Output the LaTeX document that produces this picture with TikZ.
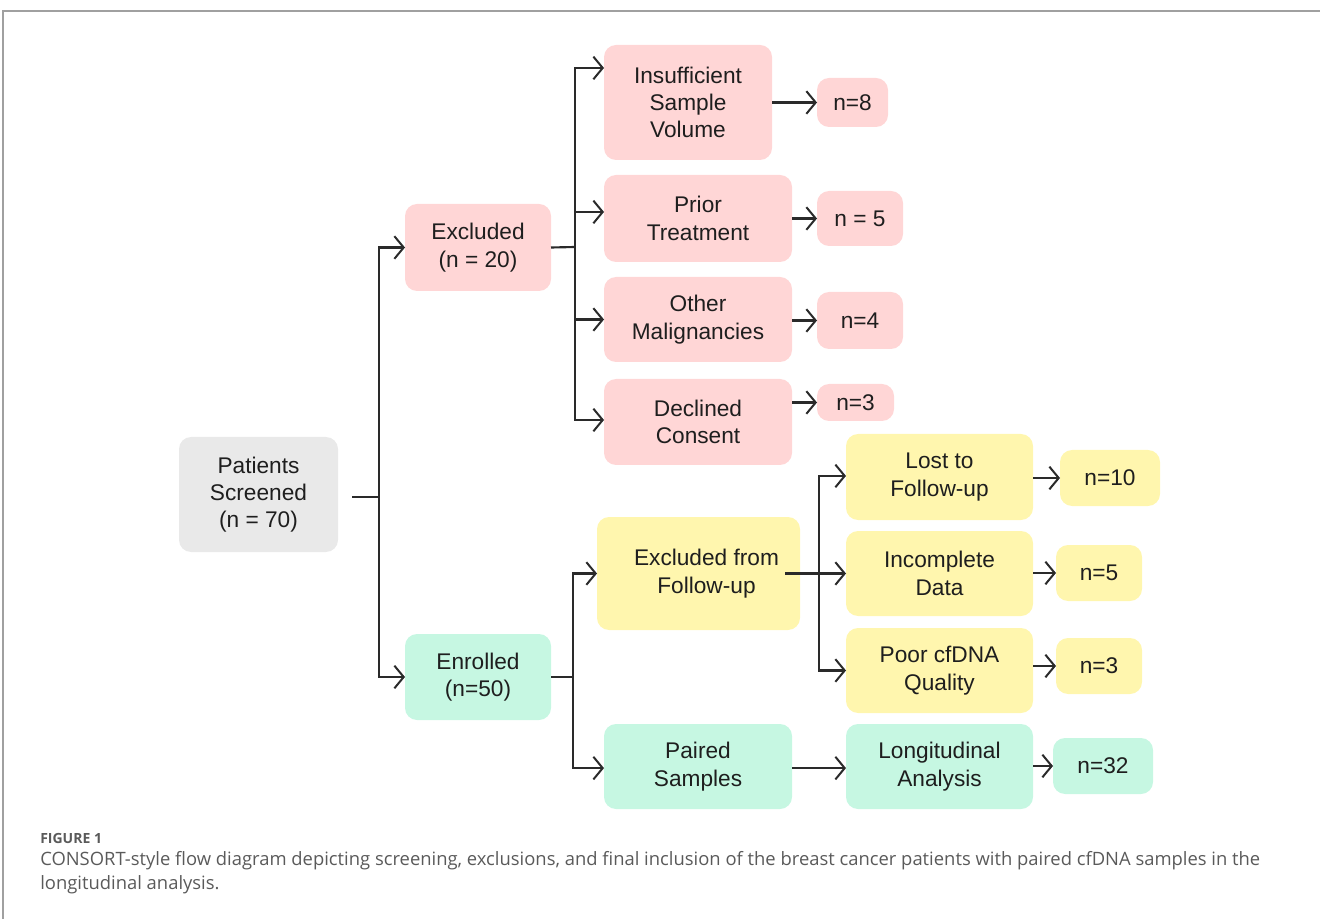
\documentclass[tikz,border=0pt]{standalone}
\usepackage{fontspec}
\setmainfont{Liberation Sans}
\newfontfamily\capfont{Open Sans}
\usetikzlibrary{arrows.meta}
\definecolor{cpink}{HTML}{FFD6D6}
\definecolor{cgray}{HTML}{E9E9E9}
\definecolor{cmint}{HTML}{C6F7E2}
\definecolor{cyel}{HTML}{FFF6AE}
\definecolor{ctext}{HTML}{1E1E1E}
\definecolor{cline}{HTML}{2A2A2A}
\definecolor{ccap}{HTML}{5A5A5A}
\definecolor{cframe}{HTML}{A0A0A0}
\newcommand{\mybx}[7]{%
  \pgfmathsetmacro{\mybw}{(#4-#2)*0.75}%
  \pgfmathsetmacro{\mybh}{(#5-#3)*0.75}%
  \node[box, fill=#6, minimum width=\mybw pt, minimum height=\mybh pt] (#1) at ({(#2+#4)/2},{(#3+#5)/2}) {#7};}
\begin{document}
\begin{tikzpicture}[x=0.75pt,y=-0.75pt,
  box/.style={rounded corners=9pt, draw=none, align=center, inner sep=0pt, outer sep=0pt,
    text=ctext, font=\fontsize{17}{20.5}\selectfont},
  ln/.style={draw=cline, line width=1.6pt},
  arr/.style={ln, -{Straight Barb[length=7pt,width=17pt,line width=1.5pt]}}]
\useasboundingbox (0,0) rectangle (1320,919);
\draw[cframe, line width=1pt] (3,919) -- (3,11) -- (1320,11);
% boxes
\mybx{scr}{179}{437}{338}{552}{cgray}{Patients\\Screened\\(n = 70)}
\mybx{exc}{405}{204}{551}{291}{cpink}{Excluded\\(n = 20)}
\mybx{enr}{405}{634}{551}{720}{cmint}{Enrolled\\(n=50)}
\mybx{ins}{604}{45}{772}{160}{cpink}{Insufficient\\Sample\\Volume}
\mybx{na}{817}{78}{888}{127}{cpink}{n=8}
\mybx{pri}{604}{175}{792}{262}{cpink}{Prior\\Treatment}
\mybx{nb}{817}{191}{903}{246}{cpink}{n = 5}
\mybx{oth}{604}{277}{792}{362}{cpink}{Other\\Malignancies}
\mybx{nc}{817}{292}{903}{349}{cpink}{n=4}
\mybx{dec}{604}{379}{792}{465}{cpink}{Declined\\Consent}
\mybx{nd}{817}{384}{894}{421}{cpink}{n=3}
\mybx{efu}{597}{517}{800}{630}{cyel}{\hspace*{12pt}Excluded from\\\hspace*{12pt}Follow-up}
\mybx{los}{846}{434}{1033}{520}{cyel}{Lost to\\Follow-up}
\mybx{ne}{1060}{450}{1160}{506}{cyel}{n=10}
\mybx{inc}{846}{531}{1033}{616}{cyel}{Incomplete\\Data}
\mybx{nf}{1056}{545}{1142}{601}{cyel}{n=5}
\mybx{poo}{846}{628}{1033}{713}{cyel}{Poor cfDNA\\Quality}
\mybx{ng}{1056}{638}{1142}{694}{cyel}{n=3}
\mybx{pai}{604}{724}{792}{809}{cmint}{Paired\\Samples}
\mybx{lon}{846}{724}{1033}{809}{cmint}{Longitudinal\\Analysis}
\mybx{nh}{1053}{738}{1153}{794}{cmint}{n=32}
% trunk coordinates
\coordinate (t1) at (379,497);
\coordinate (t2) at (575,247);
\coordinate (t3) at (573,677);
\coordinate (t4) at (819,573);
% screened
\draw[ln] ([xshift=10.5pt]scr.east |- t1) -- (t1);
\draw[arr] (t1) |- (exc.west);
\draw[arr] (t1) |- (enr.west);
% excluded
\draw[ln] (exc.east) -- (t2);
\draw[arr] (t2) |- ([yshift=25.9pt]ins.west);
\draw[arr] (t2) |- ([yshift=4.9pt]pri.west);
\draw[arr] (t2) |- (oth.west);
\draw[arr] (t2) |- ([yshift=1.5pt]dec.west);
\draw[arr] (ins.east |- na.west) -- (na.west);
\draw[arr] (pri.east |- nb.west) -- (nb.west);
\draw[arr] (oth.east |- nc.west) -- (nc.west);
\draw[arr] (dec.east |- nd.west) -- (nd.west);
% enrolled
\draw[ln] (enr.east) -- (t3);
\draw[arr] (t3) |- (efu.west);
\draw[arr] (t3) |- ([yshift=-1.2pt]pai.west);
\draw[arr] ([xshift=-11pt]efu.east) -- (inc.west);
\draw[arr] (t4) |- ([yshift=0.8pt]los.west);
\draw[arr] (t4) |- (poo.west);
\draw[arr] (los.east |- ne.west) -- (ne.west);
\draw[arr] (inc.east |- nf.west) -- (nf.west);
\draw[arr] (poo.east |- ng.west) -- (ng.west);
\draw[arr] ([yshift=-1.2pt]pai.east) -- ([yshift=-1.2pt]lon.west);
\draw[arr] (lon.east |- nh.west) -- (nh.west);
% caption
\node[anchor=west, inner sep=0pt, text=ccap, font=\capfont\bfseries\fontsize{10.5}{12}\selectfont] (fig) at (40,838) {FIGURE 1};
\node[anchor=north west, inner sep=0pt, align=left, text=ccap, font=\capfont\fontsize{13.8}{18}\selectfont] (cap) at (40,851) {CONSORT-style flow diagram depicting screening, exclusions, and final inclusion of the breast cancer patients with paired cfDNA samples in the\\longitudinal analysis.};
\end{tikzpicture}
\end{document}
